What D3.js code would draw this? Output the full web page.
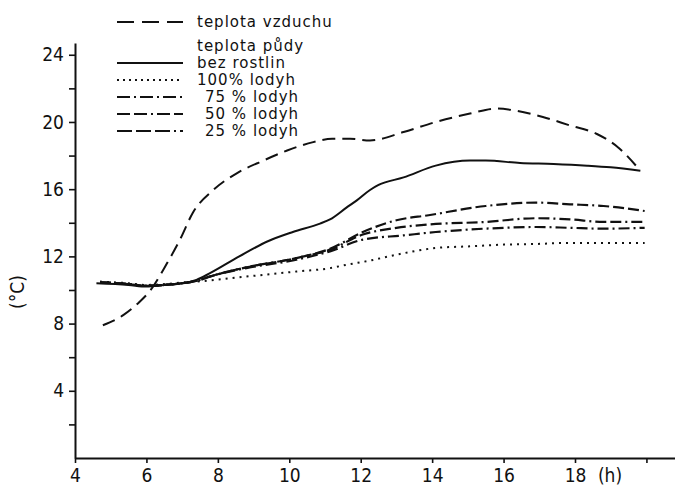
<!DOCTYPE html>
<html><head><meta charset="utf-8">
<script src="https://cdn.jsdelivr.net/npm/d3@7/dist/d3.min.js"></script>
<style>
html,body{margin:0;padding:0;background:#fff;}
svg text{font-family:"DejaVu Sans Condensed","DejaVu Sans",sans-serif;fill:#111;}
</style></head>
<body><svg id="c" width="675" height="487"></svg>
<script>
// ---- data ----
const airT = [4.78,5.35,5.76,6.1,6.58,6.94,7.3,7.87,8.54,9.27,9.94,10.67,11.2,11.7,12.26,13.2,14.1,15.06,15.8,16.27,17.1,17.85,18.6,19.2,19.83];
const airV = [7.9,8.5,9.2,9.95,11.6,13.0,14.6,15.95,16.96,17.7,18.3,18.8,19.0,19.0,18.9,19.4,20.0,20.5,20.8,20.7,20.3,19.8,19.3,18.5,17.1];
const bareT = [4.6,5.5,6.0,6.5,7.0,7.4,7.78,8.6,9.4,10.1,10.86,11.14,11.6,11.9,12.26,12.5,13.2,14.1,15.06,15.5,16.46,17.4,18.34,19.0,19.83];
const bareV = [10.4,10.3,10.2,10.3,10.4,10.6,11.0,12.0,12.9,13.45,13.95,14.2,14.9,15.35,15.95,16.25,16.7,17.4,17.7,17.7,17.56,17.5,17.4,17.3,17.1];
const s100T = [4.7,5.5,6.0,6.5,7.0,7.4,8.8,10.2,11.14,11.6,12.26,13.0,14.1,15.06,16.0,16.9,17.86,18.8,19.95];
const s100V = [10.5,10.4,10.3,10.35,10.45,10.5,10.8,11.1,11.3,11.5,11.75,12.1,12.5,12.6,12.7,12.74,12.8,12.8,12.8];
const s75T = [4.7,5.5,6.0,6.5,7.0,7.5,7.78,8.8,10.2,11.14,12.06,13.2,14.1,15.06,16.0,16.9,17.86,18.8,19.95];
const s75V = [10.45,10.35,10.25,10.3,10.4,10.6,10.8,11.3,11.8,12.3,13.0,13.25,13.45,13.6,13.7,13.75,13.7,13.65,13.7];
const s50T = [4.7,5.5,6.0,6.5,7.0,7.5,7.78,8.8,10.2,11.14,12.06,13.0,13.9,15.5,16.9,17.86,18.8,19.95];
const s50V = [10.45,10.35,10.25,10.3,10.4,10.6,10.8,11.35,11.9,12.4,13.3,13.7,13.9,14.05,14.27,14.2,14.05,14.05];
const s25T = [4.7,5.5,6.0,6.5,7.0,7.5,7.78,8.8,10.2,11.14,12.06,13.0,13.9,15.5,16.9,17.86,18.8,19.95];
const s25V = [10.45,10.35,10.25,10.3,10.4,10.6,10.8,11.35,11.9,12.45,13.45,14.15,14.45,15.0,15.2,15.1,15.0,14.7];

const yTicks = [2,4,6,8,10,12,14,16,18,20,22,24];
const xTicks = [4,6,8,10,12,14,16,18,20];
const xLabels = ["4","6","8","10","12","14","16","18",""];
const legendLabels = ["teplota vzduchu","teplota půdy","bez rostlin","100% lodyh","75 % lodyh","50 % lodyh","25 % lodyh"];

// ---- scales ----
const svg = d3.select("#c");
const x = d3.scaleLinear().domain([4,20.8]).range([75,675]);
const y = d3.scaleLinear().domain([0,24.7]).range([458,43]);
const ink = "#111";

// axes
const yAxis = d3.axisLeft(y).tickValues(yTicks).tickSize(6).tickSizeOuter(0).tickPadding(5)
  .tickFormat(d => d % 4 === 0 ? d : "");
const gy = svg.append("g").attr("transform","translate(75,0)").call(yAxis);
const xAxis = d3.axisBottom(x).tickValues(xTicks).tickSize(5).tickSizeOuter(0).tickPadding(6)
  .tickFormat((d,i) => xLabels[i]);
const gx = svg.append("g").attr("transform","translate(0,458)").call(xAxis);
[gy,gx].forEach(g=>{
  g.selectAll("path.domain").attr("stroke",ink).attr("stroke-width",2);
  g.selectAll("line").attr("stroke",ink).attr("stroke-width",1.6);
  g.selectAll("text").style("font-size","19px").attr("fill",ink);
});
svg.append("text").attr("x",610).attr("y",482).attr("text-anchor","middle")
  .style("font-size","19px").text("(h)");
svg.append("text").attr("transform","translate(24,292) rotate(-90)").attr("text-anchor","middle")
  .style("font-size","19px").text("(°C)");

// series
const series = [
  {t:airT, v:airV, dash:"13,7", leg:"17,8", w:2},
  {t:bareT, v:bareV, dash:null, leg:null, w:2},
  {t:s100T, v:s100V, dash:"2,5", leg:"2,4", w:2},
  {t:s75T, v:s75V, dash:"11,4,2,4", leg:"13,4,2,4", w:2.2},
  {t:s50T, v:s50V, dash:"11,4,11,4,2,4", leg:"13,4,13,4,2,4", w:2.2},
  {t:s25T, v:s25V, dash:"11,4,11,4,11,4,2,4", leg:"15,4,15,4,15,4,2,4", w:2.2}
];
const line = d3.line().x(d=>x(d[0])).y(d=>y(d[1])).curve(d3.curveMonotoneX);
series.forEach(s=>{
  const pts = s.t.map((t,i)=>[t,s.v[i]]);
  svg.append("path").attr("d",line(pts)).attr("fill","none").attr("stroke",ink)
    .attr("stroke-width",s.w).attr("stroke-dasharray",s.dash);
});

// legend
const legRows = [22,46,63,80,97,114,131];
const legText = [197,197,197,197,205,205,205];
const legSeries = [0,-1,1,2,3,4,5];
legendLabels.forEach((lab,i)=>{
  const si = legSeries[i];
  if (si >= 0) {
    svg.append("line").attr("x1",117).attr("x2",183).attr("y1",legRows[i]).attr("y2",legRows[i])
      .attr("stroke",ink).attr("stroke-width",series[si].w).attr("stroke-dasharray",series[si].leg);
  }
  svg.append("text").attr("x",legText[i]).attr("y",legRows[i]).attr("dy","0.36em")
    .style("font-family","'DejaVu Sans',sans-serif").style("font-size","15px")
    .style("letter-spacing","1px").text(lab);
});
</script></body></html>
